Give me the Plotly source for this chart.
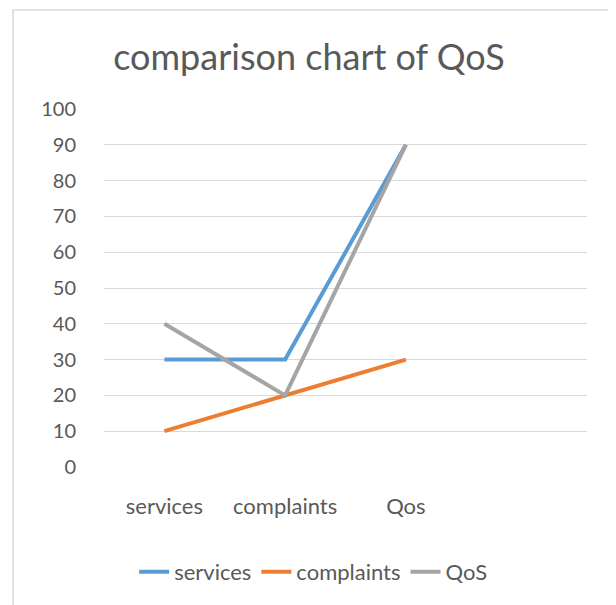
import plotly.graph_objects as go

categories = ["services", "complaints", "Qos"]
services = [30, 30, 90]
complaints = [10, 20, 30]
qos = [40, 20, 90]
y_ticks = [0, 10, 20, 30, 40, 50, 60, 70, 80, 90, 100]

FONT = "Lato"
TXT = "#595959"

# page has an 8px body margin; compensate
W, H = 608, 597
fig = go.Figure()
x = list(range(len(categories)))
for name, vals, col in [("services", services, "#5B9BD5"),
                        ("complaints", complaints, "#ED7D31"),
                        ("QoS", qos, "#A5A5A5")]:
    fig.add_trace(go.Scatter(x=x, y=vals, name=name, mode="lines",
                             line=dict(color=col, width=4)))

fig.update_layout(
    width=W, height=H,
    margin=dict(l=96, r=29, t=101, b=130),
    paper_bgcolor="white", plot_bgcolor="white",
    font=dict(family=FONT, color=TXT, size=20),
    title=dict(text="comparison chart of QoS", x=(309 - 8) / W, xref="container", xanchor="center",
               y=1 - 49 / H, yref="container", yanchor="middle",
               font=dict(size=36, color=TXT, family=FONT)),
    showlegend=True,
    legend=dict(orientation="h", x=0.433, xanchor="center", y=-0.293, yanchor="middle",
                font=dict(size=22, color=TXT), tracegroupgap=0),
)
fig.update_xaxes(range=[-0.5, 3.5], tickvals=x, ticktext=categories, showgrid=False,
                 zeroline=False, showline=False, ticks="outside", ticklen=20,
                 tickcolor="rgba(0,0,0,0)", tickfont=dict(size=22, color=TXT))
fig.update_yaxes(range=[0, 100], tickvals=y_ticks, showgrid=True, gridcolor="#D9D9D9",
                 gridwidth=1, zeroline=False, showline=False, ticks="outside", ticklen=23,
                 tickcolor="rgba(0,0,0,0)", tickfont=dict(size=20, color=TXT))

# outer chart border
fig.add_shape(type="rect", xref="paper", yref="paper",
              x0=(13 - 104) / 483, x1=(613 - 104) / 483,
              y0=(467 - 615) / 358, y1=(467 - 10) / 358,
              line=dict(color="#D9D9D9", width=1.5), layer="below")

fig.write_html("out.html")
